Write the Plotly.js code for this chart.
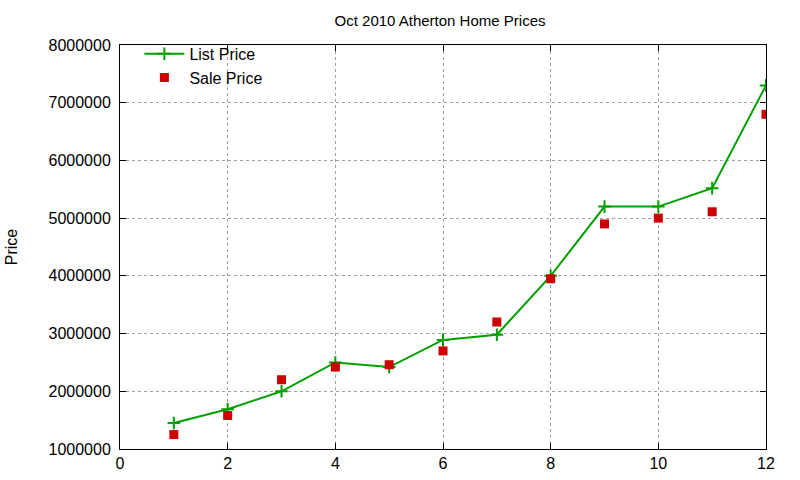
<!DOCTYPE html>
<html>
<head>
<meta charset="utf-8">
<script src="https://cdn.plot.ly/plotly-3.0.1.min.js"></script>
<style>
  html, body { margin: 0; padding: 0; background: #fff; }
  #chart { width: 800px; height: 480px; }
</style>
</head>
<body>
<div id="chart"></div>
<script>
const months = [1, 2, 3, 4, 5, 6, 7, 8, 9, 10, 11, 12];
const listPrice = [1450000, 1690000, 2000000, 2500000, 2420000, 2890000, 2980000, 4000000, 5200000, 5200000, 5520000, 7300000];
const salePrice = [1250000, 1580000, 2200000, 2420000, 2460000, 2700000, 3200000, 3950000, 4900000, 5000000, 5110000, 6800000];

const font = 'Liberation Sans, Arial, sans-serif';

const listTrace = {
  x: months,
  y: listPrice,
  name: 'List Price',
  type: 'scatter',
  mode: 'lines+markers',
  line: { color: '#00a000', width: 2 },
  marker: { symbol: 'cross-thin', size: 9, color: '#00a000', line: { color: '#00a000', width: 2 } }
};

const saleTrace = {
  x: months,
  y: salePrice,
  name: 'Sale Price',
  type: 'scatter',
  mode: 'markers',
  marker: { symbol: 'square', size: 9, color: '#cc0000' }
};

const axisBase = {
  showline: true,
  linecolor: '#000',
  linewidth: 1,
  mirror: 'allticks',
  ticks: 'inside',
  ticklen: 6,
  tickcolor: '#000',
  showgrid: true,
  gridcolor: '#a0a0a0',
  griddash: 'dot',
  gridwidth: 1,
  zeroline: false,
  tickfont: { family: font, size: 16, color: '#000' }
};

const layout = {
  width: 800,
  height: 480,
  margin: { l: 120, r: 34, t: 45, b: 31 },
  paper_bgcolor: '#fff',
  plot_bgcolor: '#fff',
  font: { family: font, color: '#000' },
  title: { text: 'Oct 2010 Atherton Home Prices', font: { family: font, size: 15 }, x: 0.55, xanchor: 'center', y: 0.957, yanchor: 'middle' },
  xaxis: { ...axisBase, range: [0, 12], dtick: 2, tick0: 0 },
  yaxis: {
    ...axisBase,
    range: [1000000, 8000000],
    dtick: 1000000,
    tickformat: 'd',
    ticklabelstandoff: 5,
    title: { text: 'Price', font: { family: font, size: 16 }, standoff: 26 }
  },
  showlegend: true,
  legend: {
    x: 0.03, y: 1.02, xanchor: 'left', yanchor: 'top',
    bgcolor: 'rgba(0,0,0,0)',
    font: { family: font, size: 16 },
    tracegroupgap: 0,
    itemwidth: 40
  }
};

Plotly.newPlot('chart', [listTrace, saleTrace], layout, { displayModeBar: false, staticPlot: true });
</script>
</body>
</html>
